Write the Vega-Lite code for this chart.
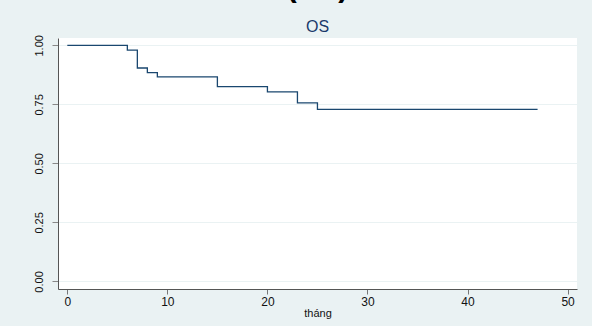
{
  "$schema": "https://vega.github.io/schema/vega-lite/v6.json",
  "autosize": {"type": "none"},
  "width": 519,
  "height": 251,
  "padding": {"left": 58, "top": 38, "right": 15, "bottom": 37},
  "background": "#eaf2f3",
  "config": {
    "view": {"fill": "#ffffff", "stroke": null},
    "font": "Liberation Sans"
  },
  "title": {
    "text": "(1/3)",
    "subtitle": "OS",
    "fontSize": 30,
    "fontWeight": "bold",
    "color": "#000000",
    "subtitleFontSize": 16,
    "subtitleColor": "#1a3a6b",
    "subtitlePadding": 16,
    "offset": 0,
    "anchor": "middle",
    "font": "Liberation Sans",
    "subtitleFont": "Liberation Sans"
  },
  "data": {
    "values": [
      {"t": 0, "s": 1.0},
      {"t": 6, "s": 0.98},
      {"t": 7, "s": 0.904},
      {"t": 8, "s": 0.884},
      {"t": 9, "s": 0.866},
      {"t": 15, "s": 0.825},
      {"t": 20, "s": 0.803},
      {"t": 23, "s": 0.756},
      {"t": 25, "s": 0.729},
      {"t": 47, "s": 0.729}
    ]
  },
  "mark": {"type": "line", "interpolate": "step-after", "color": "#1a476f", "strokeWidth": 1.3},
  "encoding": {
    "x": {
      "field": "t",
      "type": "quantitative",
      "scale": {"domain": [-0.93, 50.94], "nice": false, "zero": false},
      "axis": {
        "title": "tháng",
        "values": [0, 10, 20, 30, 40, 50],
        "grid": false,
        "domainColor": "#555555",
        "tickColor": "#777777",
        "tickSize": 5,
        "labelFontSize": 12,
        "labelColor": "#111111",
        "labelPadding": 2,
        "titleFontSize": 11,
        "titleFontWeight": "normal",
        "titleColor": "#111111",
        "titlePadding": 0
      }
    },
    "y": {
      "field": "s",
      "type": "quantitative",
      "scale": {"domain": [-0.032, 1.031], "nice": false, "zero": false},
      "axis": {
        "title": null,
        "values": [0, 0.25, 0.5, 0.75, 1],
        "format": ".2f",
        "grid": true,
        "gridColor": "#eaf2f3",
        "gridWidth": 1.2,
        "domainColor": "#555555",
        "tickColor": "#888888",
        "tickSize": 6,
        "labelAngle": 270,
        "labelFontSize": 11,
        "labelColor": "#111111",
        "labelPadding": 8
      }
    }
  }
}
